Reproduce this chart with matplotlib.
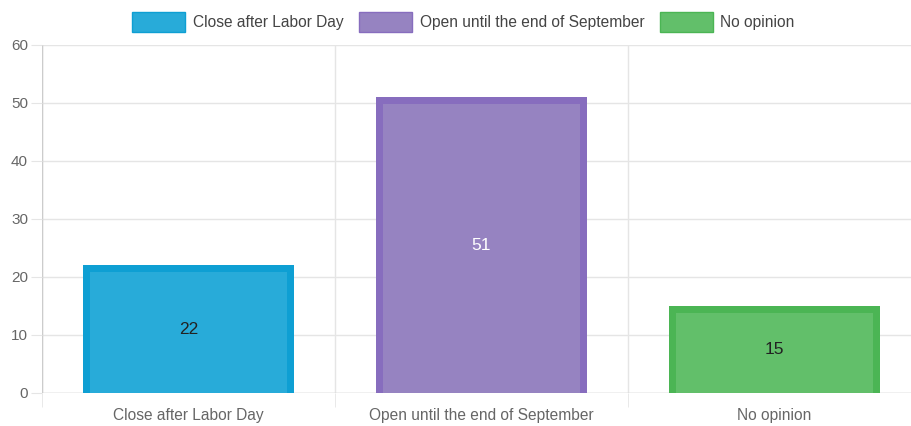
import matplotlib
matplotlib.use("Agg")
import matplotlib.pyplot as plt
from matplotlib.patches import Patch

plt.rcParams["font.family"] = ["Liberation Sans", "DejaVu Sans"]

categories = ["Close after Labor Day", "Open until the end of September", "No opinion"]
values = [22, 51, 15]
fill_colors = ["#28ABD9", "#9683C1", "#62BF6A"]
edge_colors = ["#0E9FD3", "#876DBE", "#4BB554"]
label_colors = ["#222222", "#ffffff", "#222222"]
yticks = [0, 10, 20, 30, 40, 50, 60]

W, H = 911, 426
fig = plt.figure(figsize=(W / 100, H / 100), dpi=100)
left, right, bottom, top = 42, 911, 393, 45
ax = fig.add_axes([left / W, (H - bottom) / H, (right - left) / W, (bottom - top) / H])

cat_px = 293.0
ax.set_xlim(-0.5, -0.5 + (right - left) / cat_px)
ax.set_ylim(0, 60)

bar_w = 0.72
border_px = 7
bx = border_px / cat_px
by = border_px * 60 / (bottom - top)

for i, (v, fc, ec, lc) in enumerate(zip(values, fill_colors, edge_colors, label_colors)):
    ax.bar(i, v, bar_w, color=ec, zorder=2, linewidth=0)
    ax.bar(i, v - by, bar_w - 2 * bx, color=fc, zorder=3, linewidth=0)
    ax.text(i, v / 2, str(v), ha="center", va="center", fontsize=12.5, color=lc, zorder=4)

# grid lines
for y in yticks:
    ax.axhline(y, color="#e5e5e5", linewidth=1, zorder=1)
for xb in [-0.5, 0.5, 1.5]:
    ax.axvline(xb, color="#e5e5e5", linewidth=1, zorder=1)
ax.axhline(0, color="#cccccc", linewidth=1, zorder=1)
ax.axvline(-0.5, color="#cccccc", linewidth=1, zorder=1)

for s in ax.spines.values():
    s.set_visible(False)

ax.set_yticks(yticks)
ax.set_yticklabels([str(t) for t in yticks])
ax.tick_params(axis="y", length=8, color="#e5e5e5", labelcolor="#666666", labelsize=11, pad=2)

ax.set_xticks([-0.5, 0.5, 1.5], minor=True)
ax.set_xticks([0, 1, 2])
ax.set_xticklabels(categories)
ax.tick_params(axis="x", which="major", length=0, labelcolor="#666666", labelsize=11.2, pad=11)
ax.tick_params(axis="x", which="minor", length=10, color="#e5e5e5")

handles = [Patch(facecolor=fc, edgecolor=ec, linewidth=1) for fc, ec in zip(fill_colors, edge_colors)]
fig.legend(handles, categories, loc="center", bbox_to_anchor=(0.5 + 8 / W, 1 - 22 / H), ncol=3,
           frameon=False, fontsize=11.2, handlelength=3.4, handleheight=1.6,
           handletextpad=0.5, columnspacing=1.0, labelcolor="#444444")

fig.savefig("out.png", dpi=100)
